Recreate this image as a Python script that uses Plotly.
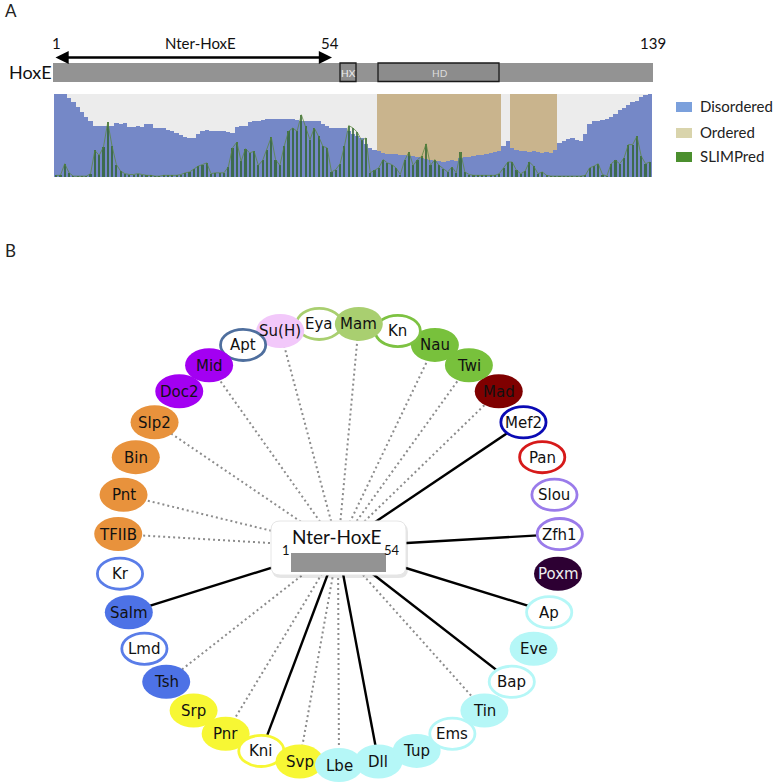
import math
import plotly.graph_objects as go

W, H = 774, 784

# ---------------- Panel A data ----------------
residues = list(range(1, 140))

disordered = [
    1.00, 1.00, 1.00, 0.95, 0.90, 0.84, 0.78, 0.72, 0.68, 0.61,
    0.61, 0.62, 0.62, 0.62, 0.65, 0.64, 0.65, 0.60, 0.60, 0.61,
    0.60, 0.64, 0.64, 0.59, 0.59, 0.59, 0.57, 0.56, 0.53, 0.51,
    0.48, 0.47, 0.47, 0.52, 0.55, 0.57, 0.56, 0.55, 0.55, 0.55,
    0.54, 0.53, 0.60, 0.62, 0.62, 0.66, 0.67, 0.68, 0.69, 0.70,
    0.70, 0.70, 0.70, 0.70, 0.70, 0.70, 0.69, 0.68, 0.68, 0.67,
    0.67, 0.67, 0.64, 0.61, 0.59, 0.59, 0.59, 0.59, 0.56, 0.52,
    0.49, 0.47, 0.40, 0.35, 0.33, 0.31, 0.29, 0.28, 0.28, 0.28,
    0.27, 0.27, 0.25, 0.25, 0.24, 0.23, 0.22, 0.20, 0.19, 0.19,
    0.18, 0.19, 0.20, 0.19, 0.23, 0.24, 0.24, 0.25, 0.27, 0.27,
    0.28, 0.29, 0.30, 0.31, 0.37, 0.43, 0.35, 0.33, 0.31, 0.31,
    0.30, 0.31, 0.30, 0.29, 0.30, 0.29, 0.33, 0.41, 0.43, 0.46,
    0.47, 0.45, 0.43, 0.52, 0.64, 0.67, 0.67, 0.69, 0.70, 0.72,
    0.76, 0.81, 0.83, 0.87, 0.90, 0.92, 0.96, 0.99, 1.00,
]

ordered = [0.0] * 75 + [
    0.69, 0.71, 0.72, 0.72, 0.72, 0.73, 0.73, 0.75, 0.75, 0.76,
    0.77, 0.78, 0.80, 0.81, 0.81, 0.82, 0.81, 0.80, 0.81, 0.77,
    0.76, 0.76, 0.75, 0.73, 0.73, 0.72, 0.71, 0.70, 0.69,
] + [0.0, 0.0] + [
    0.65, 0.67, 0.69, 0.69, 0.70, 0.69, 0.70, 0.71, 0.70, 0.71, 0.67,
] + [0.0] * 22

slimpred = [
    0.02, 0.02, 0.16, 0.05, 0.01, 0.01, 0.01, 0.01, 0.04, 0.32,
    0.26, 0.36, 0.66, 0.37, 0.15, 0.07, 0.04, 0.03, 0.03, 0.04,
    0.03, 0.02, 0.02, 0.01, 0.01, 0.02, 0.02, 0.02, 0.02, 0.03,
    0.05, 0.06, 0.10, 0.13, 0.15, 0.17, 0.04, 0.05, 0.05, 0.05,
    0.12, 0.35, 0.42, 0.19, 0.34, 0.29, 0.31, 0.14, 0.20, 0.33,
    0.48, 0.21, 0.14, 0.37, 0.55, 0.59, 0.55, 0.75, 0.61, 0.45,
    0.59, 0.49, 0.37, 0.35, 0.06, 0.09, 0.16, 0.37, 0.62, 0.59,
    0.54, 0.44, 0.47, 0.05, 0.08, 0.11, 0.21, 0.17, 0.15, 0.11,
    0.03, 0.20, 0.30, 0.14, 0.21, 0.25, 0.40, 0.14, 0.21, 0.14,
    0.10, 0.06, 0.12, 0.05, 0.30, 0.06, 0.03, 0.02, 0.02, 0.02,
    0.02, 0.02, 0.02, 0.04, 0.11, 0.18, 0.18, 0.08, 0.04, 0.07,
    0.18, 0.13, 0.04, 0.06, 0.02, 0.01, 0.01, 0.01, 0.01, 0.01,
    0.01, 0.01, 0.01, 0.02, 0.11, 0.13, 0.16, 0.03, 0.01, 0.16,
    0.20, 0.16, 0.23, 0.39, 0.39, 0.49, 0.25, 0.16, 0.18,
]

legend_labels = ["Disordered", "Ordered", "SLIMPred"]
legend_colors = ["#7ba0dc", "#d9d4ac", "#4b8f2e"]

protein_name = "HoxE"
protein_numbers = ["1", "54", "139"]
region_name = "Nter-HoxE"
domain_names = ["HX", "HD"]

# ---------------- Panel B data (clockwise, starting at Mam) ----------------
partners = ["Mam", "Kn", "Nau", "Twi", "Mad", "Mef2", "Pan", "Slou", "Zfh1", "Poxm",
            "Ap", "Eve", "Bap", "Tin", "Ems", "Tup", "Dll", "Lbe", "Svp", "Kni",
            "Pnr", "Srp", "Tsh", "Lmd", "Salm", "Kr", "TFIIB", "Pnt", "Bin", "Slp2",
            "Doc2", "Mid", "Apt", "Su(H)", "Eya"]
partner_colors = ["#a9cf70", "#7dc242", "#78c13c", "#78c13c", "#7f0000", "#0a0ab4", "#d61a1a",
                  "#9a7bea", "#9a7bea", "#2d0033", "#b5f7f7", "#b5f7f7", "#b5f7f7", "#b5f7f7",
                  "#b5f7f7", "#b5f7f7", "#b5f7f7", "#b5f7f7", "#f7f734", "#f7f734", "#f7f734",
                  "#f7f734", "#4d72e6", "#5a7de8", "#4d72e6", "#5a7de8", "#e8923c", "#e8923c",
                  "#e8923c", "#e8923c", "#a300f2", "#a300f2", "#4f6f9e", "#f2c8fa", "#a9cf70"]
partner_filled = [True, False, True, True, True, False, False, False, False, True,
                  False, True, False, True, False, True, True, True, True, False,
                  True, True, True, False, True, False, True, True, True, True,
                  True, True, False, True, False]
partner_link = ["dot", "", "dot", "dot", "dot", "solid", "", "", "solid", "",
                "solid", "", "solid", "dot", "", "", "solid", "dot", "dot", "solid",
                "dot", "", "dot", "", "solid", "", "dot", "dot", "", "dot",
                "", "dot", "", "dot", ""]

# ---------------- styles / layout constants ----------------
BLUE = "#7588c7"
TAN = "#c9b48d"
BG = "#ececec"
GREEN_BAR = "rgba(48,100,48,0.80)"
GREEN_LINE = "rgba(90,135,60,0.75)"
GREY = "#939393"
TXT = "Lato, 'Open Sans', sans-serif"
NODE_FONT = "DejaVu Sans, sans-serif"

fig = go.Figure()

# Panel A chart
fig.add_trace(go.Bar(x=residues, y=disordered, width=1, marker=dict(color=BLUE, line=dict(width=0)),
                     xaxis="x", yaxis="y", hoverinfo="skip"))
fig.add_trace(go.Bar(x=residues, y=[-v for v in ordered], base=[1] * len(ordered), width=1,
                     marker=dict(color=TAN, line=dict(width=0)), xaxis="x", yaxis="y", hoverinfo="skip"))
fig.add_trace(go.Bar(x=residues, y=slimpred, width=0.5, marker=dict(color=GREEN_BAR, line=dict(width=0)),
                     xaxis="x", yaxis="y", hoverinfo="skip"))
fig.add_trace(go.Scatter(x=residues, y=slimpred, mode="lines", line=dict(color=GREEN_LINE, width=1),
                         xaxis="x", yaxis="y", hoverinfo="skip"))

# Panel B network layout (pixel axes x2/y2)
CX, CY, R = 339, 544, 221
HUBX, HUBY = 338, 547
n = len(partners)
pos = []
for i in range(n):
    th = math.radians(180.0 / n + i * 360.0 / n)
    pos.append((CX + R * math.sin(th), CY - R * math.cos(th)))

for style, color, width, dash in [("dot", "#8c8c8c", 2, "2px,3px"), ("solid", "#000000", 2.4, "solid")]:
    xs, ys = [], []
    for (px, py), lk in zip(pos, partner_link):
        if lk == style:
            xs += [px, HUBX, None]
            ys += [py, HUBY, None]
    fig.add_trace(go.Scatter(x=xs, y=ys, mode="lines", line=dict(color=color, width=width, dash=dash),
                             xaxis="x2", yaxis="y2", hoverinfo="skip"))

shapes = []
annotations = []

# disorder background
shapes.append(dict(type="rect", xref="x domain", yref="y domain", x0=0, x1=1, y0=0, y1=1,
                   fillcolor=BG, line=dict(width=0), layer="below"))

# protein schematic
shapes.append(dict(type="rect", xref="x2", yref="y2", x0=53, x1=653, y0=63, y1=82,
                   fillcolor=GREY, line=dict(width=0)))
shapes.append(dict(type="rect", xref="x2", yref="y2", x0=340, x1=356, y0=63, y1=81.5,
                   fillcolor="#8c8c8c", line=dict(color="#1a1a1a", width=1.3)))
shapes.append(dict(type="rect", xref="x2", yref="y2", x0=378, x1=499, y0=63, y1=81.5,
                   fillcolor="#8c8c8c", line=dict(color="#1a1a1a", width=1.3)))
annotations.append(dict(x=348, y=72.5, text=domain_names[0], font=dict(family=TXT, size=10, color="#eeeeee")))
annotations.append(dict(x=440, y=72.5, text=domain_names[1], font=dict(family=TXT, size=10, color="#dddddd")))
annotations.append(dict(x=7, y=72, text=protein_name, xanchor="left", font=dict(family=TXT, size=18, color="#111")))
annotations.append(dict(x=56, y=43, text=protein_numbers[0], font=dict(family=TXT, size=15, color="#111")))
annotations.append(dict(x=330, y=43, text=protein_numbers[1], font=dict(family=TXT, size=15, color="#111")))
annotations.append(dict(x=653, y=43, text=protein_numbers[2], font=dict(family=TXT, size=15, color="#111")))
annotations.append(dict(x=200, y=43, text=region_name, font=dict(family=TXT, size=15, color="#111")))
annotations.append(dict(x=332, y=57.5, ax=54, ay=57.5, axref="x2", ayref="y2", text="", showarrow=True,
                        arrowhead=2, arrowside="end+start", arrowsize=1.1, arrowwidth=2.4, arrowcolor="#000"))
annotations.append(dict(x=3, y=10, text="A", xanchor="left", font=dict(family=TXT, size=17, color="#222")))
annotations.append(dict(x=3, y=250, text="B", xanchor="left", font=dict(family=TXT, size=17, color="#222")))

# legend
for k, (lab, col) in enumerate(zip(legend_labels, legend_colors)):
    yc = [107, 133, 157][k]
    shapes.append(dict(type="rect", xref="x2", yref="y2", x0=676, x1=692, y0=yc - 5, y1=yc + 5,
                       fillcolor=col, line=dict(width=0)))
    annotations.append(dict(x=698, y=yc - 1, text=lab, xanchor="left", font=dict(family=TXT, size=15, color="#222")))


def rounded(x0, y0, x1, y1, r):
    return (f"M {x0 + r},{y0} L {x1 - r},{y0} Q {x1},{y0} {x1},{y0 + r} L {x1},{y1 - r} "
            f"Q {x1},{y1} {x1 - r},{y1} L {x0 + r},{y1} Q {x0},{y1} {x0},{y1 - r} "
            f"L {x0},{y0 + r} Q {x0},{y0} {x0 + r},{y0} Z")


# nodes (drawn counter-clockwise starting at Eya so later ones overlap earlier)
for i in reversed(range(n)):
    px, py = pos[i]
    col = partner_colors[i]
    if partner_filled[i]:
        shapes.append(dict(type="circle", xref="x2", yref="y2", x0=px - 24, x1=px + 24, y0=py - 17, y1=py + 17,
                           fillcolor=col, line=dict(width=0)))
    else:
        shapes.append(dict(type="circle", xref="x2", yref="y2", x0=px - 22.6, x1=px + 22.6, y0=py - 15.6,
                           y1=py + 15.6, fillcolor="white", line=dict(color=col, width=2.8)))
    tcol = "#eeeeee" if partners[i] == "Poxm" else "#111111"
    annotations.append(dict(x=px, y=py + 0.5, text=partners[i], font=dict(family=NODE_FONT, size=15, color=tcol)))

# hub box
shapes.append(dict(type="path", xref="x2", yref="y2", path=rounded(272, 523, 408, 578, 9),
                   fillcolor="rgba(0,0,0,0.10)", line=dict(width=0)))
shapes.append(dict(type="path", xref="x2", yref="y2", path=rounded(271, 521, 406, 575, 9),
                   fillcolor="white", line=dict(color="#e6e6e6", width=1)))
shapes.append(dict(type="rect", xref="x2", yref="y2", x0=291, x1=386, y0=553, y1=572,
                   fillcolor=GREY, line=dict(width=0)))
annotations.append(dict(x=337, y=536, text=region_name, font=dict(family=TXT, size=19, color="#111")))
annotations.append(dict(x=286, y=550, text="1", font=dict(family=TXT, size=13, color="#111")))
annotations.append(dict(x=392, y=550, text="54", font=dict(family=TXT, size=13, color="#111")))

for a in annotations:
    a.setdefault("xref", "x2")
    a.setdefault("yref", "y2")
    a.setdefault("showarrow", False)
    a.setdefault("xanchor", "center")
    a.setdefault("yanchor", "middle")

fig.update_layout(
    width=W, height=H, autosize=False,
    margin=dict(l=0, r=0, t=0, b=0, pad=0),
    paper_bgcolor="white", plot_bgcolor="rgba(0,0,0,0)",
    showlegend=False, barmode="overlay", bargap=0,
    xaxis=dict(domain=[54 / W, 652 / W], range=[0.5, 139.5], visible=False, anchor="y", fixedrange=True),
    yaxis=dict(domain=[1 - 177 / H, 1 - 94 / H], range=[0, 1], visible=False, anchor="x", fixedrange=True),
    xaxis2=dict(domain=[0, 1], range=[0, W], visible=False, anchor="y2", fixedrange=True),
    yaxis2=dict(domain=[0, 1], range=[H, 0], visible=False, anchor="x2", fixedrange=True),
    shapes=shapes, annotations=annotations,
)

fig.write_html("out.html", config={"displayModeBar": False},
               post_script="document.body.style.margin='0';document.body.style.overflow='hidden';")
